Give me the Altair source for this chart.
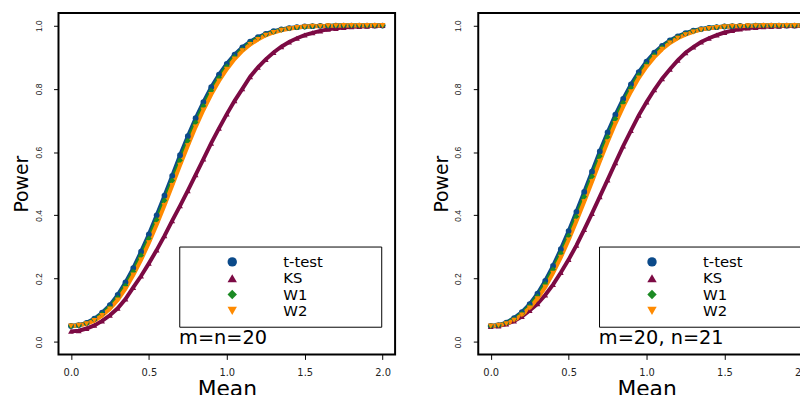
import altair as alt
import pandas as pd

mean = [0.0, 0.05, 0.1, 0.15, 0.2, 0.25, 0.3, 0.35, 0.4, 0.45, 0.5, 0.55, 0.6, 0.65, 0.7,
        0.75, 0.8, 0.85, 0.9, 0.95, 1.0, 1.05, 1.1, 1.15, 1.2, 1.25, 1.3, 1.35, 1.4, 1.45,
        1.5, 1.55, 1.6, 1.65, 1.7, 1.75, 1.8, 1.85, 1.9, 1.95, 2.0]

# Panel 1: m = n = 20
left_t = [0.050, 0.053, 0.060, 0.073, 0.092, 0.116, 0.148, 0.188, 0.233, 0.285, 0.340, 0.400,
          0.462, 0.525, 0.590, 0.650, 0.707, 0.758, 0.805, 0.845, 0.879, 0.908, 0.931, 0.949,
          0.963, 0.974, 0.982, 0.988, 0.992, 0.995, 0.997, 0.998, 0.999, 0.999, 1.0, 1.0, 1.0,
          1.0, 1.0, 1.0, 1.0]
left_ks = [0.033, 0.035, 0.042, 0.052, 0.066, 0.084, 0.106, 0.135, 0.172, 0.208, 0.248, 0.290,
           0.335, 0.383, 0.430, 0.478, 0.528, 0.578, 0.628, 0.675, 0.720, 0.762, 0.800, 0.838,
           0.868, 0.893, 0.915, 0.933, 0.948, 0.960, 0.970, 0.977, 0.983, 0.988, 0.991, 0.994,
           0.996, 0.997, 0.998, 0.999, 1.0]
left_w1 = [0.050, 0.052, 0.058, 0.070, 0.088, 0.110, 0.140, 0.178, 0.222, 0.273, 0.327, 0.386,
           0.447, 0.510, 0.574, 0.636, 0.694, 0.746, 0.794, 0.835, 0.871, 0.901, 0.925, 0.945,
           0.960, 0.971, 0.980, 0.987, 0.991, 0.994, 0.996, 0.998, 0.999, 0.999, 1.0, 1.0, 1.0,
           1.0, 1.0, 1.0, 1.0]
left_w2 = [0.050, 0.052, 0.057, 0.067, 0.083, 0.104, 0.132, 0.168, 0.211, 0.259, 0.313, 0.370,
           0.431, 0.494, 0.558, 0.620, 0.679, 0.733, 0.782, 0.825, 0.862, 0.894, 0.920, 0.940,
           0.956, 0.969, 0.978, 0.985, 0.990, 0.994, 0.996, 0.998, 0.998, 0.999, 0.999, 1.0,
           1.0, 1.0, 1.0, 1.0, 1.0]

# Panel 2: m = 20, n = 21
right_t = [0.050, 0.053, 0.061, 0.075, 0.094, 0.119, 0.152, 0.193, 0.240, 0.293, 0.350, 0.411,
           0.474, 0.538, 0.602, 0.662, 0.718, 0.768, 0.814, 0.853, 0.886, 0.914, 0.936, 0.953,
           0.966, 0.976, 0.984, 0.989, 0.993, 0.995, 0.997, 0.998, 0.999, 0.999, 1.0, 1.0, 1.0,
           1.0, 1.0, 1.0, 1.0]
right_ks = [0.048, 0.050, 0.056, 0.066, 0.080, 0.099, 0.120, 0.148, 0.181, 0.219, 0.260, 0.305,
            0.355, 0.406, 0.459, 0.512, 0.566, 0.619, 0.668, 0.716, 0.758, 0.797, 0.832, 0.862,
            0.890, 0.914, 0.932, 0.948, 0.960, 0.970, 0.978, 0.984, 0.989, 0.992, 0.994, 0.996,
            0.997, 0.998, 0.999, 0.999, 1.0]
right_w1 = [0.050, 0.052, 0.059, 0.072, 0.089, 0.113, 0.144, 0.183, 0.229, 0.280, 0.336, 0.396,
            0.459, 0.523, 0.587, 0.648, 0.705, 0.756, 0.803, 0.844, 0.878, 0.907, 0.931, 0.949,
            0.963, 0.974, 0.982, 0.988, 0.992, 0.995, 0.997, 0.998, 0.999, 0.999, 1.0, 1.0, 1.0,
            1.0, 1.0, 1.0, 1.0]
right_w2 = [0.050, 0.052, 0.057, 0.068, 0.085, 0.107, 0.136, 0.173, 0.217, 0.267, 0.322, 0.381,
            0.443, 0.506, 0.570, 0.632, 0.690, 0.743, 0.791, 0.834, 0.870, 0.900, 0.925, 0.945,
            0.960, 0.971, 0.980, 0.987, 0.991, 0.994, 0.996, 0.998, 0.998, 0.999, 0.999, 1.0,
            1.0, 1.0, 1.0, 1.0, 1.0]

series_names = ["t-test", "KS", "W1", "W2"]
series_colors = ["#0B4A8A", "#7C0A44", "#1C8A24", "#FF8A00"]
series_shapes = ["circle", "triangle-up", "diamond", "triangle-down"]
x_ticks = [0.0, 0.5, 1.0, 1.5, 2.0]
y_ticks = [0.0, 0.2, 0.4, 0.6, 0.8, 1.0]
panel_labels = ["m=n=20", "m=20, n=21"]

FONT = "DejaVu Sans"
FONT_Y = "Liberation Sans"


def long_df(cols):
    rows = []
    for name, vals in zip(series_names, cols):
        for m, p in zip(mean, vals):
            rows.append({"Mean": m, "Power": p, "Test": name})
    return pd.DataFrame(rows)


# an invisible title on the right side only widens the legend box
legend = alt.Legend(
    orient="none", legendX=122, legendY=236,
    title=".", titleOrient="right", titlePadding=48, titleOpacity=0, titleFontSize=10,
    strokeColor="black", padding=8, fillColor="white",
    symbolOffset=38, labelOffset=44, rowPadding=0.5,
    labelFontSize=15, labelFont=FONT, labelColor="black",
    symbolSize=90,
)


def panel(cols, label):
    df = long_df(cols)
    xenc = alt.X("Mean:Q",
                 scale=alt.Scale(domain=[-0.08, 2.08], nice=False, zero=False),
                 axis=alt.Axis(values=x_ticks, format=".1f", title="Mean"))
    yenc = alt.Y("Power:Q",
                 scale=alt.Scale(domain=[-0.04, 1.04], nice=False, zero=False),
                 axis=alt.Axis(values=y_ticks, format=".1f", title="Power"))
    lines = alt.Chart(df).mark_line(strokeWidth=4).encode(
        x=xenc, y=yenc,
        stroke=alt.Stroke("Test:N", scale=alt.Scale(domain=series_names, range=series_colors),
                          legend=None),
        detail="Test:N")
    pts = alt.Chart(df).mark_point(filled=True, size=34, opacity=1).encode(
        x=xenc, y=yenc,
        color=alt.Color("Test:N", scale=alt.Scale(domain=series_names, range=series_colors),
                        legend=legend),
        shape=alt.Shape("Test:N", scale=alt.Scale(domain=series_names, range=series_shapes),
                        legend=legend))
    tdf = pd.DataFrame({"Mean": [0.694], "Power": [-0.006], "label": [label]})
    txt = alt.Chart(tdf).mark_text(align="left", baseline="alphabetic", fontSize=19.5,
                                   font=FONT, color="black").encode(
        x="Mean:Q", y="Power:Q", text="label:N")
    return alt.layer(lines, pts, txt).properties(width=340, height=345)


left = panel([left_t, left_ks, left_w1, left_w2], panel_labels[0])
right = panel([right_t, right_ks, right_w1, right_w2], panel_labels[1])

# The reference figure is wider than the window: its right edge is cut off.
# Fix the view size so the overflow is clipped instead of rescaling the page.
patch = [
    {"op": "add", "path": "/autosize", "value": {"type": "none", "contains": "content"}},
    {"op": "add", "path": "/width", "value": 749},
    {"op": "add", "path": "/padding", "value": {"left": 51, "top": 3, "right": 0, "bottom": 39}},
]

chart = alt.hconcat(left, right, spacing=84, bounds="flush").resolve_legend(
    color="independent", shape="independent"
).properties(
    padding={"left": 5, "top": 3, "right": 0, "bottom": 0},
    usermeta={"embedOptions": {"patch": patch}},
).configure_view(
    stroke="black", strokeWidth=2
).configure_axis(
    grid=False, domain=False, ticks=True, tickSize=5, tickColor="black", tickWidth=1,
    labelFont=FONT, labelFontSize=10, labelColor="#222",
    titleFont=FONT, titleFontSize=22, titleFontWeight="normal", titleColor="black",
).configure_axisY(
    labelAngle=270, labelAlign="center", labelBaseline="bottom", labelPadding=10.5,
    labelFont=FONT_Y, labelFontSize=8.5, titlePadding=3, titleFontSize=19,
).configure_axisX(
    labelPadding=8, titlePadding=1,
)

chart.save("out.html", embed_options={"renderer": "svg", "actions": False})
